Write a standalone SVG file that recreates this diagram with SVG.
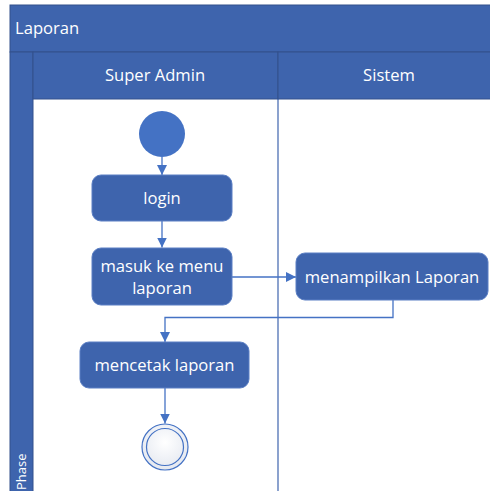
<svg xmlns="http://www.w3.org/2000/svg" width="490" height="491" viewBox="0 0 490 491">
<defs>
<style>
.hdr{fill:#3E64AD;stroke:#33508C;stroke-width:1}
.act{fill:#3E64AD;stroke:#5B7FC4;stroke-width:1}
.t{font-family:"Open Sans","Liberation Sans",sans-serif;fill:#FFFFFF;font-size:16.6px}
.c{fill:none;stroke:#4472C4;stroke-width:1.3}
</style>
<marker id="ah" viewBox="0 0 10 10" refX="10" refY="5" markerWidth="10" markerHeight="10" markerUnits="userSpaceOnUse" orient="auto">
<path d="M0,0 L10,5 L0,10 z" fill="#4472C4"/>
</marker>
<radialGradient id="fg" cx="0.5" cy="0.4" r="0.6">
<stop offset="0" stop-color="#FFFFFF"/>
<stop offset="1" stop-color="#E4E8F0"/>
</radialGradient>
</defs>
<rect width="490" height="491" fill="#FFFFFF"/>
<g id="pool">
<rect class="hdr" x="10" y="5" width="481" height="47"/>
<text class="t" x="15" y="34">Laporan</text>
<rect class="hdr" x="10" y="52" width="23" height="440"/>
<text class="t" x="26" y="490" style="font-size:13px" transform="rotate(-90 26 490)">Phase</text>
</g>
<g id="lane-superadmin">
<rect class="hdr" x="33" y="52" width="245" height="47"/>
<text class="t" x="155" y="81" text-anchor="middle">Super Admin</text>
</g>
<g id="lane-sistem">
<rect class="hdr" x="278" y="52" width="213" height="47"/>
<text class="t" x="389" y="81" text-anchor="middle">Sistem</text>
<line x1="278" y1="99" x2="278" y2="491" stroke="#3E64AD" stroke-width="1.2"/>
</g>
<g id="connectors">
<line class="c" x1="162" y1="157" x2="162" y2="175" marker-end="url(#ah)"/>
<line class="c" x1="162" y1="221" x2="162" y2="247.5" marker-end="url(#ah)"/>
<line class="c" x1="232" y1="277" x2="296" y2="277" marker-end="url(#ah)"/>
<polyline class="c" points="393,300 393,317.5 165,317.5 165,342" marker-end="url(#ah)"/>
<line class="c" x1="165" y1="388" x2="165" y2="423.5" marker-end="url(#ah)"/>
</g>
<g id="start">
<circle cx="162" cy="134" r="23" fill="#4472C4"/>
</g>
<g id="login">
<rect class="act" x="92" y="175" width="140" height="46" rx="9"/>
<text class="t" x="162" y="204" text-anchor="middle">login</text>
</g>
<g id="masuk">
<rect class="act" x="92" y="248" width="140" height="57" rx="9"/>
<text class="t" x="162" y="272" text-anchor="middle">masuk ke menu</text>
<text class="t" x="162" y="294" text-anchor="middle">laporan</text>
</g>
<g id="menampilkan">
<rect class="act" x="296" y="253" width="192" height="47" rx="9"/>
<text class="t" x="392" y="283" text-anchor="middle">menampilkan Laporan</text>
</g>
<g id="mencetak">
<rect class="act" x="80" y="342" width="169" height="46" rx="9"/>
<text class="t" x="164.5" y="371" text-anchor="middle">mencetak laporan</text>
</g>
<g id="end">
<circle cx="165" cy="447" r="23" fill="url(#fg)" stroke="#4472C4" stroke-width="1.2"/>
<circle cx="165" cy="447" r="18.5" fill="none" stroke="#4472C4" stroke-width="1.2"/>
</g>
</svg>
